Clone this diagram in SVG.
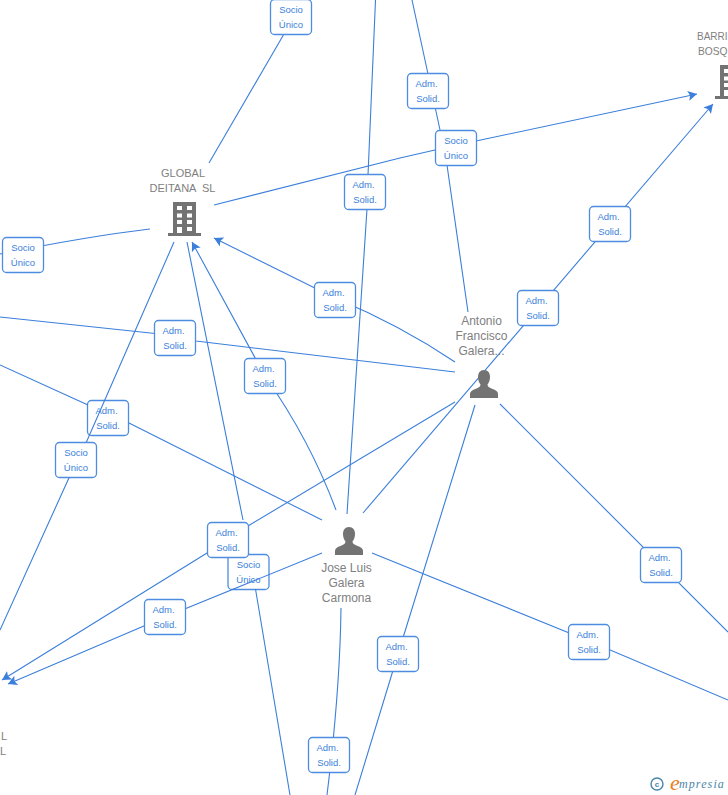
<svg xmlns="http://www.w3.org/2000/svg" width="728" height="795" viewBox="0 0 728 795">
<style>
.e{fill:none;stroke:#3b7fdb;stroke-width:1.1}
.b{fill:#fff;stroke:#4d8ce0;stroke-width:1.3}
.l{font:9.5px "Liberation Sans",Arial,sans-serif;fill:#3b7fdb;text-anchor:middle}
.n{font:11px "Liberation Sans",Arial,sans-serif;fill:#808080;text-anchor:middle;white-space:pre}
.p{font-size:12px}
.i{fill:#737373}
</style>
<defs>
<marker id="a" markerUnits="userSpaceOnUse" markerWidth="12" markerHeight="11" refX="9" refY="5" orient="auto"><path d="M0 0L9 5L0 10L2 5Z" fill="#3b7fdb"/></marker>
<symbol id="bld" viewBox="0 0 33 34" overflow="visible"><path class="i" fill-rule="evenodd" d="M5 0H28V31H33V34H0V31H5ZM9 4V8H14V4ZM19 4V8H24V4ZM9 11.500V15.500H14V11.500ZM19 11.500V15.500H24V11.500ZM9 18V22H14V18ZM19 18V22H24V18ZM9 25V31H14V25ZM19 25V29H24V25Z"/></symbol>
<symbol id="per" viewBox="0 0 28 28" overflow="visible"><path class="i" d="M14 0C18 0 20 3 20 7C20 10 19 12.500 17.500 14.500C17.500 16.500 19 17.500 22 18.800C26 20.300 28 21.500 28 24V28H0V24C0 21.500 2 20.300 6 18.800C9 17.500 10.500 16.500 10.500 14.500C9 12.500 8 10 8 7C8 3 10 0 14 0Z"/></symbol>
<g id="lbl-a"><rect class="b" x="-20.500" y="-17.500" width="41" height="35" rx="4"/><text class="l" x="-1.500" y="-4">Adm.</text><text class="l" y="11">Solid.</text></g>
<g id="lbl-s"><rect class="b" x="-20.500" y="-17.500" width="41" height="35" rx="4"/><text class="l" y="-4">Socio</text><text class="l" y="11">Único</text></g>
</defs>
<g id="labels-under">
<use href="#lbl-a" x="108" y="418"/>
<use href="#lbl-s" x="248.500" y="572"/>
</g>
<g id="connectors">
<path class="e" d="M284 34L209 163"/>
<path class="e" d="M150 229Q90 236 0 254"/>
<path class="e" d="M214 205L400 158L435 150L476 141L697 94" marker-end="url(#a)"/>
<path class="e" d="M375.500 0L368 175L367 209L347 514"/>
<path class="e" d="M412 0L428 74L440 130L447 165L468 312"/>
<path class="e" d="M455 362Q400 325 335 298L214 238" marker-end="url(#a)"/>
<path class="e" d="M336 510Q310 440 265 376L192 242" marker-end="url(#a)"/>
<path class="e" d="M0 317L155 333.500L196 341L455 372"/>
<path class="e" d="M0 365L88 405M129 423L322 520"/>
<path class="e" d="M174 242L107 395L86 443L68 480L0 630"/>
<path class="e" d="M187 242L243 520M255.500 589L290 795"/>
<path class="e" d="M363 513L713 104" marker-end="url(#a)"/>
<path class="e" d="M455 402L248 526M207 553L2 680" marker-end="url(#a)"/>
<path class="e" d="M322 553L165 617L8 684" marker-end="url(#a)"/>
<path class="e" d="M475 405L398 654L355 795"/>
<path class="e" d="M500 404L728 632"/>
<path class="e" d="M372 553L589 641L728 700"/>
<path class="e" d="M341 608Q340 690 327 795"/>
</g>
<g id="node-global"><text class="n" x="183" y="177">GLOBAL</text><text class="n" x="182.500" y="192">DEITANA  SL</text><use href="#bld" x="168" y="202" width="33" height="34"/></g>
<g id="node-barri"><text class="n" x="697" y="40" textLength="30.500" lengthAdjust="spacingAndGlyphs" style="text-anchor:start">BARRI</text><text class="n" x="698" y="55" textLength="29.500" lengthAdjust="spacingAndGlyphs" style="text-anchor:start">BOSQ</text><use href="#bld" x="715" y="65" width="33" height="34"/></g>
<g id="node-antonio"><text class="n p" x="481.500" y="325">Antonio</text><text class="n p" x="481.500" y="340">Francisco</text><text class="n p" x="481.500" y="355">Galera...</text><use href="#per" x="470" y="370" width="28" height="28"/></g>
<g id="node-jose"><use href="#per" x="335" y="527" width="28" height="28"/><text class="n p" x="346.500" y="572">Jose Luis</text><text class="n p" x="346.500" y="587">Galera</text><text class="n p" x="346.500" y="602">Carmona</text></g>
<g id="node-left"><text class="n" x="1" y="740" style="text-anchor:start">L</text><text class="n" x="0" y="755" style="text-anchor:start">L</text></g>
<g id="labels">
<use href="#lbl-s" x="291" y="17"/>
<use href="#lbl-s" x="23" y="255"/>
<use href="#lbl-a" x="428" y="91"/>
<use href="#lbl-s" x="456" y="148"/>
<use href="#lbl-a" x="365" y="192"/>
<use href="#lbl-a" x="610" y="224"/>
<use href="#lbl-a" x="538" y="308"/>
<use href="#lbl-a" x="335" y="300"/>
<use href="#lbl-a" x="175" y="338"/>
<use href="#lbl-a" x="265" y="376"/>
<use href="#lbl-s" x="76" y="460"/>
<use href="#lbl-a" x="228" y="540"/>
<use href="#lbl-a" x="165" y="617"/>
<use href="#lbl-a" x="661" y="565"/>
<use href="#lbl-a" x="589" y="642"/>
<use href="#lbl-a" x="398" y="654"/>
<use href="#lbl-a" x="329" y="755"/>
</g>
<g id="logo"><circle cx="657" cy="784" r="6" fill="none" stroke="#4a86a8" stroke-width="1.4"/><text x="657" y="787" style="font:bold 8px 'Liberation Sans',sans-serif;fill:#4a86a8;text-anchor:middle">c</text><text x="670" y="790" style="font:italic 22px 'Liberation Serif',serif;fill:#e8801e">e</text><text x="679" y="788" style="font:italic 12px 'Liberation Serif',serif;fill:#4a86a8;letter-spacing:1.100px">mpresia</text></g>
</svg>
